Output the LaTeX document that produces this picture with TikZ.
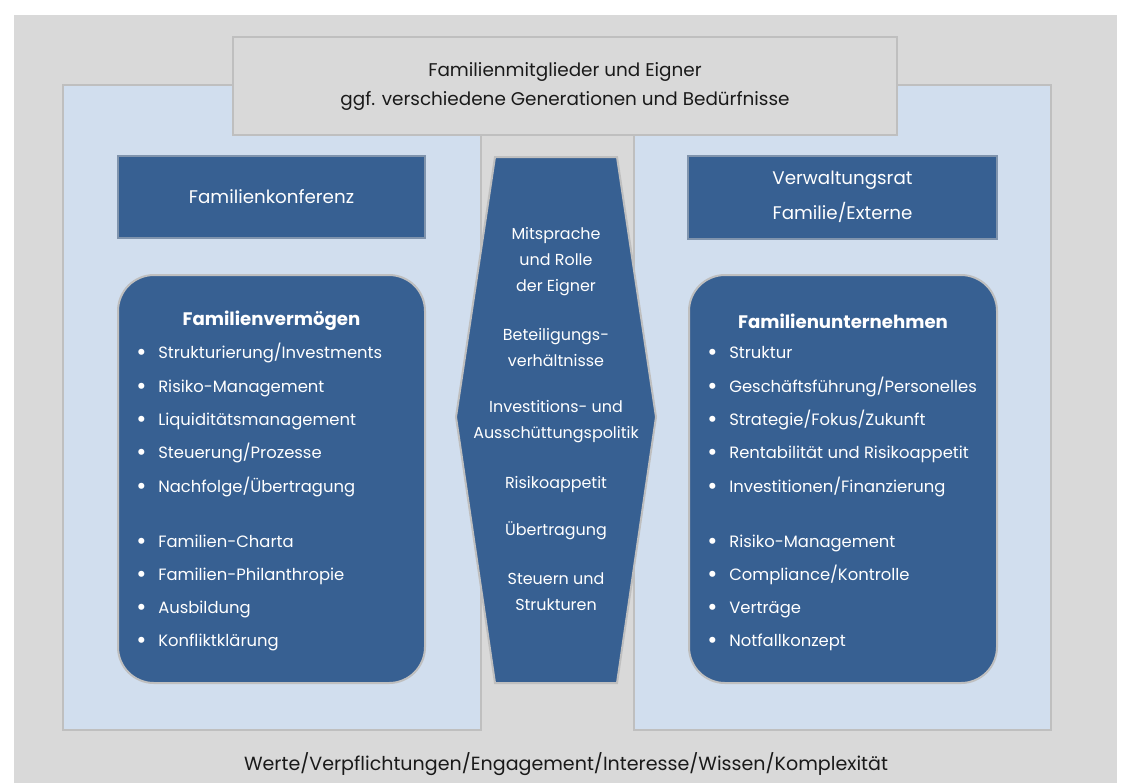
\documentclass[tikz,border=0pt]{standalone}
\usepackage{fontspec}
\setmainfont{Poppins}

\definecolor{bggray}{HTML}{D9D9D9}
\definecolor{panelblue}{HTML}{D1DEEE}
\definecolor{framegray}{HTML}{BFBFBF}
\definecolor{darkblue}{HTML}{376092}
\definecolor{boxline}{HTML}{8094AD}
\definecolor{textblack}{HTML}{1A1A1A}

\newcommand{\bigdot}{\makebox[16.5pt][l]{\raisebox{-0.25ex}{\scalebox{1.5}{•}}}}

\tikzset{
  panel/.style={draw=framegray, fill=panelblue, line width=1.5pt},
  headbox/.style={draw=boxline, fill=darkblue, line width=1.5pt, text=white, align=center},
  listbox/.style={draw=framegray, fill=darkblue, line width=1.5pt, rounded corners=27pt},
  listitem/.style={anchor=base west, text=white, inner sep=0pt, font=\fontsize{12.3}{14}\selectfont},
  listhead/.style={text=white, inner sep=0pt, font=\fontsize{13.6}{15}\selectfont\bfseries},
  midtext/.style={text=white, align=center, inner sep=0pt, font=\fontsize{11.95}{19.5}\selectfont}
}

\begin{document}
\begin{tikzpicture}[x=0.75pt,y=-0.75pt]
\useasboundingbox (0,0) rectangle (1126,783);
\fill[bggray] (14,15) rectangle (1117,783);

% the two panels
\draw[panel] (63,85) rectangle (481,730);
\draw[panel] (634,85) rectangle (1051,730);

% owners on top
\node[draw=framegray, fill=bggray, line width=1.5pt, minimum width=498pt, minimum height=73.5pt,
      align=center, text=textblack, font=\fontsize{13.8}{21.75}\selectfont] (owners) at (565,86)
      {Familienmitglieder und Eigner\\ggf. verschiedene Generationen und Bedürfnisse};

% boards
\node[headbox, minimum width=230.25pt, minimum height=61.5pt, font=\fontsize{13.7}{15}\selectfont] (konferenz) at (271.5,197) {Familienkonferenz};
\node[headbox, minimum width=231.75pt, minimum height=62.25pt, font=\fontsize{13.7}{26.25}\selectfont] (vwrat) at (842.5,197) {Verwaltungsrat\\Familie/Externe};

% rounded boxes
\node[listbox, minimum width=230.25pt, minimum height=306pt] (vermoegen) at (271.5,479) {};
\node[listbox, minimum width=231pt, minimum height=306pt] (unternehmen) at (843,479) {};

\node[listhead] (vermoegen-head) at (271.5,321) {Familienvermögen};
\node[listhead] (unternehmen-head) at (843,321) {Familienunternehmen};

\foreach \y/\t [count=\i] in {358/Strukturierung\slash Investments, 392/Risiko-Management, 425/Liquiditätsmanagement,
    458/Steuerung\slash Prozesse, 492/Nachfolge\slash Übertragung, 547/Familien-Charta,
    580/Familien-Philanthropie, 613/Ausbildung, 646/Konfliktklärung}
  \node[listitem] (vermoegen-\i) at (136,\y) {\bigdot\t};

\foreach \y/\t [count=\i] in {358/Struktur, 392/Geschäftsführung\slash Personelles, 425/Strategie\slash Fokus\slash Zukunft,
    458/Rentabilität und Risikoappetit, 492/Investitionen\slash Finanzierung, 547/Risiko-Management,
    580/Compliance\slash Kontrolle, 613/Verträge, 646/Notfallkonzept}
  \node[listitem] (unternehmen-\i) at (707,\y) {\bigdot\t};

% middle part
\draw[draw=framegray, fill=darkblue, line width=1.5pt]
  (495,157) -- (617,157) -- (656,417) -- (617,683) -- (495,683) -- (456,417) -- cycle;

\node[midtext] (mitsprache) at (556,262) {Mitsprache\\und Rolle\\der Eigner};
\node[midtext] (beteiligung) at (556,347.5) {Beteiligungs-\\verhältnisse};
\node[midtext] (investition) at (556,421.5) {Investitions- und\\Ausschüttungspolitik};
\node[midtext] (risiko) at (556,484) {Risikoappetit};
\node[midtext] (uebertragung) at (556,531) {Übertragung};
\node[midtext] (steuern) at (556,592) {Steuern und\\Strukturen};

\node[text=textblack, font=\fontsize{14.3}{16}\selectfont] (werte) at (566,764)
  {Werte/Verpflichtungen/Engagement/Interesse/Wissen/Komplexität};
\end{tikzpicture}
\end{document}
